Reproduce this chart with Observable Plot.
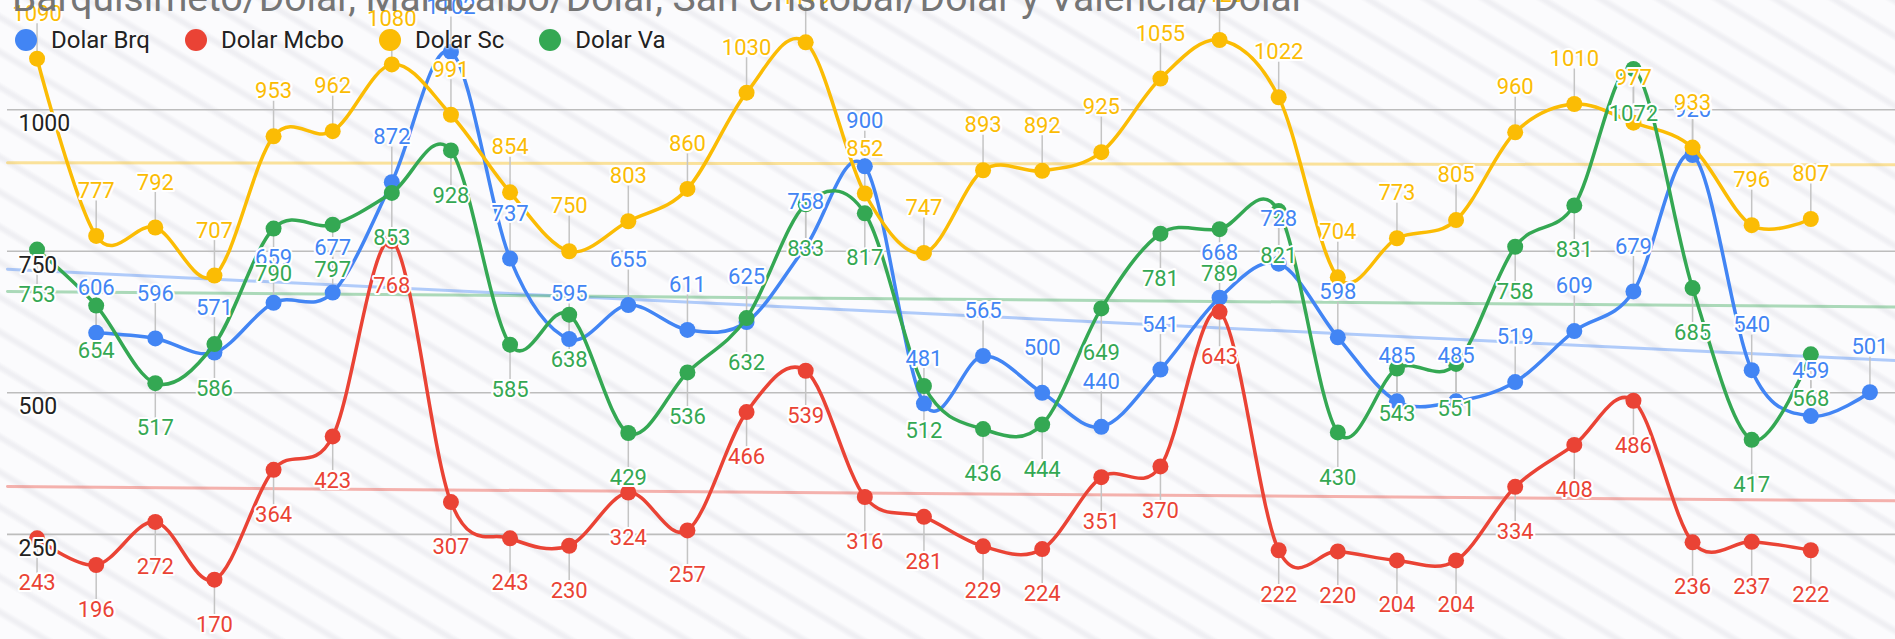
<!DOCTYPE html>
<html>
<head>
<meta charset="utf-8">
<script src="https://cdn.jsdelivr.net/npm/d3@7"></script>
<script src="https://cdn.jsdelivr.net/npm/@observablehq/plot@0.6"></script>
<style>
html,body{margin:0;padding:0;overflow:hidden;background:#fff;}
#wrap{position:relative;width:1895px;height:639px;overflow:hidden;font-family:Roboto,"Noto Sans",sans-serif;
  background:repeating-linear-gradient(31deg,#fbfbfd 0px,#fbfbfd 18px,#efeff3 22px,#efeff3 24px,#fbfbfd 28px,#fbfbfd 30px);}
#chart{position:absolute;left:0;top:0;}
#title{position:absolute;left:12px;top:-21px;font-size:39px;line-height:38px;color:#757575;white-space:nowrap;}
#legend{position:absolute;left:15px;top:29px;display:flex;align-items:center;height:22px;}
.item{display:flex;align-items:center;margin-right:35px;font-size:24px;color:#222;
  text-shadow:0 0 2px #fff,0 0 2px #fff,0 0 3px #fff;}
.dot{width:22px;height:22px;border-radius:50%;margin-right:14px;flex:none;}
</style>
</head>
<body>
<div id="wrap">
  <div id="chart"></div>
  <div id="title"></div>
  <div id="legend"></div>
</div>
<script>
// ---- data (32 categories, index 0..31) ----
const titleText = "Barquisimeto/Dolar, Maracaibo/Dolar, San Cristobal/Dolar y Valencia/Dolar";
const seriesNames = ["Dolar Brq", "Dolar Mcbo", "Dolar Sc", "Dolar Va"];
const seriesColors = ["#4285f4", "#ea4335", "#fbbc04", "#34a853"];
const yTicks = [250, 500, 750, 1000];

const dolarBrq = [null, 606, 596, 571, 659, 677, 872, 1102, 737, 595, 655, 611, 625, 758, 900, 481,
  565, 500, 440, 541, 668, 728, 598, 485, 485, 519, 609, 679, 920, 540, 459, 501];
const dolarMcbo = [243, 196, 272, 170, 364, 423, 768, 307, 243, 230, 324, 257, 466, 539, 316, 281,
  229, 224, 351, 370, 643, 222, 220, 204, 204, 334, 408, 486, 236, 237, 222, null];
const dolarSc = [1090, 777, 792, 707, 953, 962, 1080, 991, 854, 750, 803, 860, 1030, 1119, 852, 747,
  893, 892, 925, 1055, 1123, 1022, 704, 773, 805, 960, 1010, 977, 933, 796, 807, null];
const dolarVa = [753, 654, 517, 586, 790, 797, 853, 928, 585, 638, 429, 536, 632, 833, 817, 512,
  436, 444, 649, 781, 789, 821, 430, 543, 551, 758, 831, 1072, 685, 417, 568, null];

const seriesValues = [dolarBrq, dolarMcbo, dolarSc, dolarVa];
// annotation side: -1 above the point, +1 below
const labelSide = [-1, 1, -1, 1];

// ---- layout ----
const W = 1895, H = 639;
const xDomain = [-0.5, dolarBrq.length - 0.5];
const yDomain = [64.4, 1192.8];
const unitsPerPx = (yDomain[1] - yDomain[0]) / H;
const labelOffset = 45, stemLen = 35;

const series = seriesNames.map((name, i) => {
  const rows = seriesValues[i].map((v, k) => v == null ? null : {k, v}).filter(Boolean);
  // linear trendline (least squares on category index)
  const mx = d3.mean(rows, d => d.k), my = d3.mean(rows, d => d.v);
  const slope = d3.sum(rows, d => (d.k - mx) * (d.v - my)) / d3.sum(rows, d => (d.k - mx) ** 2);
  const trend = xDomain.map(k => ({k, v: my + slope * (k - mx)}));
  return {name, color: seriesColors[i], rows, trend, side: labelSide[i]};
});

const marks = [];
marks.push(Plot.ruleY(yTicks, {x1: xDomain[0], x2: xDomain[1], stroke: "#bdbdbd", strokeWidth: 1.6}));
for (const s of series) {
  marks.push(Plot.line(s.trend, {x: "k", y: "v", stroke: s.color, strokeOpacity: 0.4, strokeWidth: 3}));
}
for (const s of series) {
  marks.push(Plot.ruleX(s.rows, {x: "k", y1: "v", y2: d => d.v - s.side * stemLen * unitsPerPx,
    stroke: "#c4c4c4", strokeWidth: 1.5}));
}
for (const s of series) {
  marks.push(Plot.line(s.rows, {x: "k", y: "v", stroke: s.color, strokeWidth: 3.5, curve: "cardinal", tension: 0}));
  marks.push(Plot.dot(s.rows, {x: "k", y: "v", r: 8, fill: s.color}));
}
for (const s of series) {
  marks.push(Plot.text(s.rows, {x: "k", y: "v", text: d => String(d.v), dy: s.side * labelOffset,
    fill: s.color, stroke: "white", strokeWidth: 4, fontSize: 22, fontFamily: "Roboto"}));
}
marks.push(Plot.text(yTicks, {x: xDomain[0], y: d => d, text: d => String(d), dx: 11, dy: 14,
  textAnchor: "start", fill: "#222", stroke: "white", strokeWidth: 4, fontSize: 23, fontFamily: "Roboto"}));

const chart = Plot.plot({
  width: W, height: H, margin: 0,
  x: {type: "linear", domain: xDomain, range: [7, 1899], axis: null},
  y: {type: "linear", domain: yDomain, range: [H, 0], axis: null},
  style: {background: "transparent", overflow: "visible"},
  marks
});
document.getElementById("chart").appendChild(chart);

document.getElementById("title").textContent = titleText;
const legend = document.getElementById("legend");
series.forEach(s => {
  const it = document.createElement("div");
  it.className = "item";
  const dot = document.createElement("span");
  dot.className = "dot";
  dot.style.background = s.color;
  it.appendChild(dot);
  it.appendChild(document.createTextNode(s.name));
  legend.appendChild(it);
});
</script>
</body>
</html>
